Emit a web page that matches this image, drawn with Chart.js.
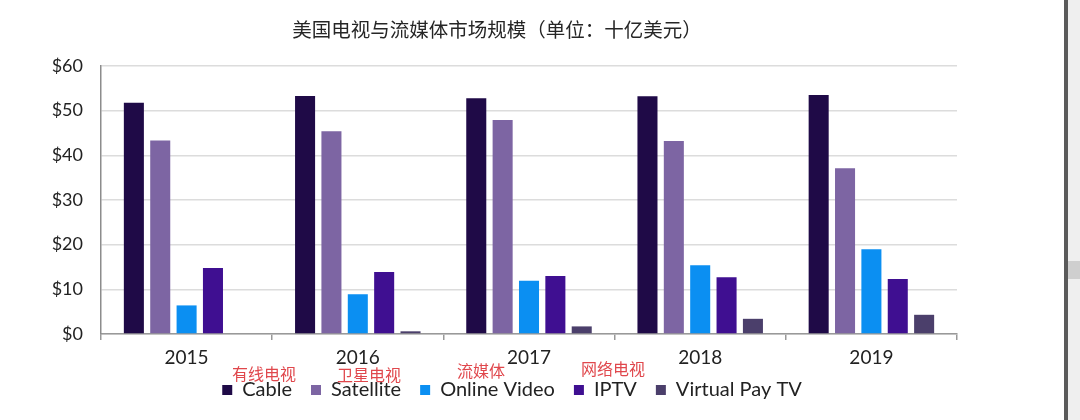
<!DOCTYPE html>
<html>
<head>
<meta charset="utf-8">
<script src="https://cdn.jsdelivr.net/npm/chart.js@4"></script>
<style>
  html, body { margin: 0; padding: 0; background: #fff; }
  #wrap { position: relative; width: 1080px; height: 420px; overflow: hidden; }
  #c { position: absolute; left: 0; top: 0; }
  .edge { position: absolute; left: 1064px; top: 0; width: 4px; height: 420px; background: #5a5a5a; }
  .gutter { position: absolute; left: 1068px; top: 0; width: 12px; height: 420px; background: #efefef; }
  .thumb { position: absolute; left: 1068px; top: 261px; width: 12px; height: 18px; background: #cfcfcf; }
</style>
</head>
<body>
<div id="wrap">
  <canvas id="c" width="1080" height="420"></canvas>
  <div class="edge"></div>
  <div class="gutter"></div>
  <div class="thumb"></div>
</div>
<script>
const titleText = '美国电视与流媒体市场规模（单位：十亿美元）';
const categories = ['2015', '2016', '2017', '2018', '2019'];
const seriesNames = ['Cable', 'Satellite', 'Online Video', 'IPTV', 'Virtual Pay TV'];
const cable = [51.8, 53.3, 52.8, 53.2, 53.5];
const satellite = [43.3, 45.4, 47.9, 43.2, 37.1];
const onlineVideo = [6.4, 8.9, 11.9, 15.4, 19.0];
const iptv = [14.8, 13.9, 13.0, 12.7, 12.3];
const virtualPayTV = [0, 0.6, 1.7, 3.4, 4.3];
const notes = ['有线电视', '卫星电视', '流媒体', '网络电视'];
const yTicks = [0, 10, 20, 30, 40, 50, 60];

const colors = ['#1f0a47', '#7d65a3', '#0b8ff2', '#3f0f91', '#4b3f6b'];
const seriesValues = [cable, satellite, onlineVideo, iptv, virtualPayTV];

const overlay = {
  id: 'overlay',
  afterLayout(chart) {
    const lg = chart.legend;
    if (lg) {
      const h = lg.bottom - lg.top;
      lg.left = 67;
      lg.top = 361;
      lg.bottom = 361 + h;
    }
  },
  afterDraw(chart) {
    const ctx = chart.ctx;
    ctx.save();
    ctx.textAlign = 'center';
    ctx.textBaseline = 'middle';
    ctx.fillStyle = '#262626';
    ctx.font = '19.5px "Noto Sans CJK SC"';
    ctx.fillText(titleText, 497, 30);
    ctx.fillStyle = '#e0474c';
    ctx.font = '16px "Noto Sans CJK SC"';
    const notePos = [[264, 374], [369, 375], [481, 371], [613, 369]];
    notes.forEach((t, i) => ctx.fillText(t, notePos[i][0], notePos[i][1]));
    ctx.restore();
  }
};

new Chart(document.getElementById('c'), {
  type: 'bar',
  data: {
    labels: categories,
    datasets: seriesNames.map((name, i) => ({
      label: name,
      data: seriesValues[i],
      backgroundColor: colors[i],
      borderWidth: 0,
      categoryPercentage: 0.77,
      barPercentage: 0.76
    }))
  },
  options: {
    responsive: false,
    animation: false,
    layout: { padding: { left: 0, right: 123, top: 66, bottom: 0 } },
    plugins: {
      title: { display: false },
      tooltip: { enabled: false },
      legend: {
        position: 'bottom',
        labels: {
          boxWidth: 10,
          boxHeight: 10,
          padding: 19,
          color: '#222',
          font: { family: 'Lato', size: 20 }
        }
      }
    },
    scales: {
      x: {
        afterFit(scale) { scale.height = 37; },
        grid: {
          display: true,
          drawOnChartArea: false,
          drawTicks: true,
          tickLength: 6,
          offset: true,
          color: '#999',
          lineWidth: 1.5
        },
        border: { display: true, color: '#999', width: 1.5 },
        ticks: { color: '#222', padding: 6, font: { family: 'Lato', size: 19 } }
      },
      y: {
        min: 0,
        max: 60,
        afterFit(scale) { scale.width = 101; },
        afterBuildTicks(scale) { scale.ticks = yTicks.map(v => ({ value: v })); },
        grid: { color: '#dcdcdc', lineWidth: 1.5, drawTicks: false },
        border: { display: true, color: '#8c8c8c', width: 1.5 },
        ticks: {
          color: '#222',
          padding: 18,
          font: { family: 'Lato', size: 18 },
          callback: v => '$' + v
        }
      }
    }
  },
  plugins: [overlay]
});
</script>
</body>
</html>
